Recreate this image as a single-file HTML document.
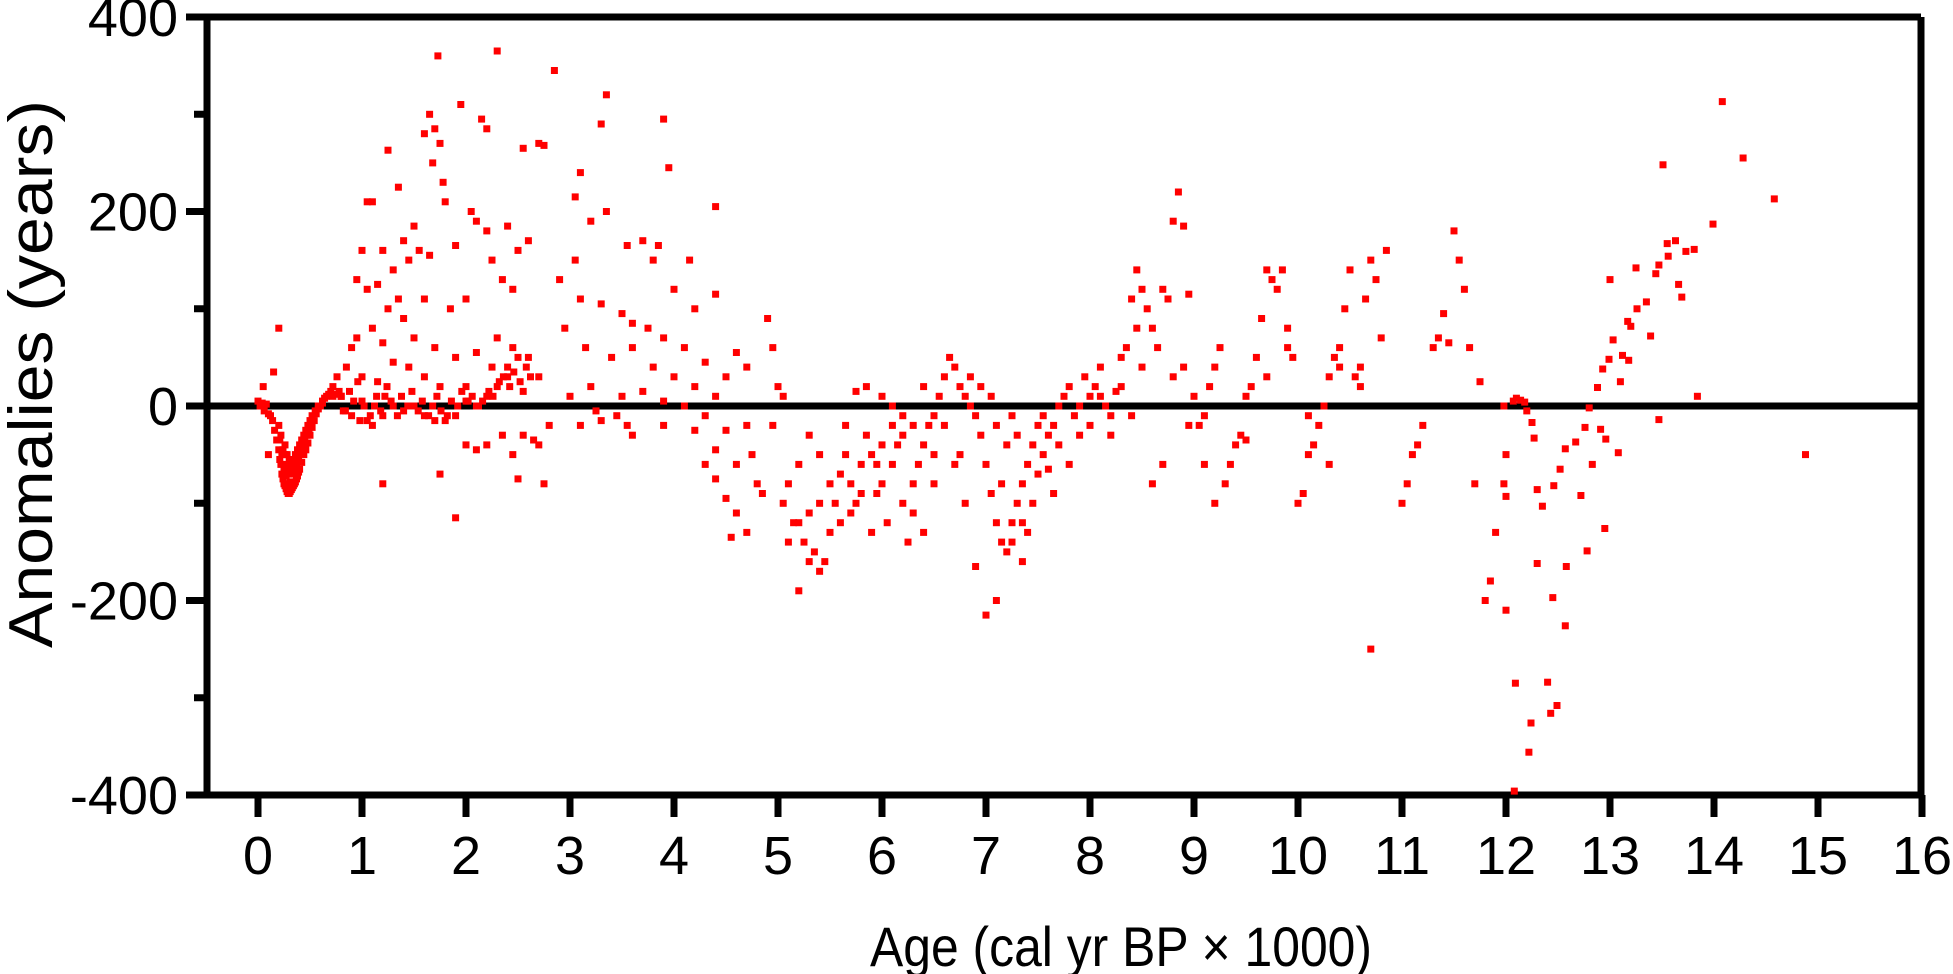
<!DOCTYPE html>
<html><head><meta charset="utf-8">
<style>
html,body{margin:0;padding:0;background:#fff;}
svg{display:block;}
text{font-family:"Liberation Sans",Arial,sans-serif;fill:#000;}
</style></head>
<body>
<svg id="chart" width="1953" height="974" viewBox="0 0 1953 974" xmlns="http://www.w3.org/2000/svg">
<g id="axes"></g>
<g id="marks"></g>
<text x="0" y="0" transform="translate(52,374) rotate(-90)" text-anchor="middle" font-size="62" textLength="548" lengthAdjust="spacingAndGlyphs">Anomalies (years)</text>
<text x="1121" y="966" text-anchor="middle" font-size="56" textLength="502" lengthAdjust="spacingAndGlyphs">Age (cal yr BP × 1000)</text>
</svg>
<script>
const xTicks=[0,1,2,3,4,5,6,7,8,9,10,11,12,13,14,15,16];
const yTicks=[400,200,0,-200,-400];
const yMinorTicks=[300,100,-100,-300];
const ages=[
0.0,0.02,0.04,0.06,0.08,0.1,0.12,0.14,0.16,0.18,
0.2,0.21,0.22,0.23,0.24,0.25,0.26,0.27,0.28,0.29,
0.3,0.31,0.32,0.33,0.34,0.35,0.36,0.37,0.38,0.39,
0.4,0.42,0.44,0.46,0.48,0.5,0.52,0.54,0.56,0.58,
0.6,0.62,0.64,0.66,0.68,0.7,0.72,0.75,0.78,0.8,
0.2,0.22,0.24,0.26,0.28,0.3,0.32,0.34,0.36,0.38,
0.4,0.42,0.44,0.46,0.48,0.5,0.52,0.55,0.58,0.62,
0.1,0.2,0.05,0.15,
0.21,0.23,0.25,0.27,0.29,0.31,0.33,0.35,0.37,0.39,0.41,0.43,0.45,0.47,0.49,
0.26,0.28,0.3,0.32,0.34,0.36,0.38,0.4,0.44,0.48,
1.0,1.05,1.1,1.2,1.3,1.4,1.5,1.6,1.7,1.8,1.9,2.0,2.1,2.2,2.3,2.4,2.5,
0.72,0.76,0.8,0.84,0.88,0.92,0.96,1.02,1.08,1.14,1.18,1.24,1.28,1.34,1.38,1.44,1.48,1.54,1.58,1.64,
1.68,1.72,1.76,1.82,1.86,1.92,1.96,2.02,2.06,2.12,2.16,2.22,2.26,2.32,2.36,2.42,2.46,2.52,2.58,2.62,
0.82,0.9,0.98,1.12,1.22,
1.73,2.3,1.65,1.7,1.75,1.6,1.95,2.15,2.2,1.25,1.35,2.55,2.7,2.75,1.78,1.8,1.68,1.05,1.1,1.5,
2.1,2.05,2.2,2.4,2.5,2.6,1.4,1.45,1.2,1.0,0.95,1.15,1.3,1.55,1.65,1.9,2.25,2.35,2.45,1.05,
1.25,1.35,1.6,1.85,2.0,2.3,2.45,2.6,2.7,0.9,0.95,1.1,1.2,1.4,1.5,1.7,1.9,2.1,2.25,0.85,
1.0,1.15,1.3,1.45,1.6,1.75,2.0,2.4,2.55,2.0,2.1,2.2,2.35,2.45,2.55,2.65,2.7,2.8,1.9,1.75,
1.2,2.5,2.75,
2.85,3.35,3.3,3.9,3.95,3.1,3.05,3.2,3.35,4.4,3.7,3.85,3.55,3.8,4.15,3.05,2.9,3.1,3.3,4.0,
4.2,4.4,3.5,3.6,3.75,3.9,4.1,4.3,4.5,4.6,2.95,3.15,3.4,3.6,3.8,4.0,4.2,4.4,4.7,3.0,
3.2,3.5,3.7,3.9,4.1,4.3,4.5,4.7,3.1,3.3,3.6,3.9,4.2,4.4,4.6,4.75,4.5,4.6,4.7,4.4,
4.3,4.8,4.55,4.85,4.9,4.95,5.0,5.05,4.95,3.45,3.55,3.25,
5.05,5.1,5.15,5.2,5.25,5.3,5.35,5.4,5.45,5.5,5.55,5.6,5.65,5.7,5.75,5.8,5.85,5.9,5.95,6.0,
6.05,6.1,6.15,6.2,6.25,6.3,6.35,6.4,6.45,6.5,6.55,6.6,6.65,6.7,6.75,6.8,6.85,6.9,6.95,7.0,
7.05,7.1,7.15,7.2,7.25,7.3,7.35,7.4,7.45,7.5,7.55,7.6,7.65,7.7,7.75,7.8,7.85,7.9,7.95,8.0,
5.1,5.2,5.3,5.4,5.5,5.2,5.3,5.4,5.6,5.7,5.8,5.9,6.0,6.1,6.2,6.3,6.4,6.0,6.1,5.85,
5.75,6.5,6.6,6.7,6.8,6.9,7.0,7.1,7.15,7.2,7.25,7.3,7.35,7.4,7.45,7.5,7.55,7.6,7.1,6.85,
6.95,7.05,6.4,6.3,6.2,7.35,7.25,6.5,5.65,5.95,6.75,7.65,7.7,7.8,7.9,
8.0,8.05,8.1,8.15,8.2,8.25,8.3,8.35,8.4,8.45,8.5,8.55,8.6,8.65,8.7,8.75,8.8,8.85,8.9,8.95,
8.6,8.7,8.8,8.9,9.0,9.05,9.1,9.15,9.2,9.25,9.3,9.35,9.4,9.45,9.5,9.55,9.6,9.65,9.7,9.75,
9.8,9.85,9.9,9.95,10.0,10.05,10.1,10.15,10.2,10.25,10.3,10.35,10.4,10.45,10.5,10.55,10.6,10.65,10.7,10.75,
10.8,10.85,10.7,10.1,9.9,9.7,9.5,9.2,9.1,8.95,8.3,8.2,8.1,8.5,8.45,8.4,10.3,10.4,10.6,
11.0,11.05,11.1,11.15,11.2,11.3,11.35,11.4,11.45,11.5,11.55,11.6,11.65,11.7,11.75,11.8,11.85,11.9,
12.08,12.22,12.24,12.4,12.43,12.49,12.09,12.0,
12.3,12.35,12.46,12.52,12.57,12.67,12.76,12.8,12.83,12.72,12.78,12.95,12.91,12.96,13.08,12.58,12.57,12.45,12.3,12.0,
12.0,11.98,12.25,12.27,
12.88,12.93,12.99,13.03,13.1,13.12,13.18,13.17,13.2,13.26,13.35,13.39,13.25,13.44,13.47,13.56,13.55,13.63,13.73,13.81,
13.66,13.69,13.99,11.98,12.07,12.1,12.14,12.18,12.2,
14.08,14.28,14.58,14.88,13.51,13.84,13.47,13.0
];
const anomalies=[
5,0,3,-5,2,-8,-10,-15,-25,-35,
-45,-55,-60,-70,-75,-80,-82,-85,-88,-90,
-90,-88,-86,-84,-82,-80,-78,-75,-72,-68,
-65,-58,-50,-45,-38,-30,-22,-15,-8,-3,
0,5,8,10,12,15,10,12,15,10,
-20,-30,-45,-50,-60,-65,-60,-55,-50,-45,
-40,-35,-30,-25,-20,-15,-10,-5,0,3,
-50,80,20,35,
-35,-50,-65,-72,-80,-78,-70,-66,-60,-56,-50,-44,-36,-30,-24,
-40,-50,-55,-60,-62,-58,-50,-45,-40,-28,
5,-15,-20,-10,0,-5,0,-10,-15,-15,-10,5,0,10,20,40,50,
20,30,10,-5,15,5,25,0,-10,10,-5,20,5,-10,10,0,15,-5,5,-10,
0,10,-5,-10,5,0,15,5,10,0,5,15,10,25,30,20,35,25,40,30,
-5,-10,-15,0,10,
360,365,300,285,270,280,310,295,285,263,225,265,270,268,230,210,250,210,210,185,
190,200,180,185,160,170,170,150,160,160,130,125,140,160,155,165,150,130,120,120,
100,110,110,100,110,70,60,50,30,60,70,80,65,90,70,60,50,55,40,40,
30,25,45,40,30,20,20,30,15,-40,-45,-40,-30,-50,-30,-35,-40,-20,-115,-70,
-80,-75,-80,
345,320,290,295,245,240,215,190,200,205,170,165,165,150,150,150,130,110,105,120,
100,115,95,85,80,70,60,45,30,55,80,60,50,60,40,30,20,10,40,10,
20,10,15,5,0,-10,-25,-20,-20,-15,-30,-20,-25,-45,-60,-50,-95,-110,-130,-75,
-60,-80,-135,-90,90,60,20,10,-20,-10,-20,-5,
-100,-80,-120,-190,-140,-110,-150,-170,-160,-130,-100,-70,-50,-80,-100,-60,-30,-50,-90,-80,
-120,-60,-40,-100,-140,-80,-60,-40,-20,-10,10,30,50,40,20,10,0,-10,-30,-60,
-90,-120,-140,-150,-120,-100,-80,-60,-40,-20,-10,-30,-20,0,10,20,-10,0,30,10,
-140,-120,-160,-100,-80,-60,-30,-50,-120,-110,-90,-130,-40,-20,-10,-110,-130,10,0,20,
15,-50,-20,-60,-100,-165,-215,-200,-80,-40,-10,-30,-120,-130,-100,-70,-50,-65,-20,30,
20,10,20,-20,-30,-160,-140,-80,-20,-60,-50,-90,-40,-60,-30,
-20,20,40,0,-10,15,50,60,110,140,120,100,80,60,120,110,190,220,185,115,
-80,-60,30,40,10,-20,-10,20,40,60,-80,-60,-40,-30,10,20,50,90,140,130,
120,140,60,50,-100,-90,-50,-40,-20,0,30,50,60,100,140,30,40,110,150,130,
70,160,-250,-10,80,30,-35,-100,-60,-20,20,-30,10,40,80,-10,-60,40,20,
-100,-80,-50,-40,-20,60,70,95,65,180,150,120,60,-80,25,-200,-180,-130,
-396,-356,-326,-284,-316,-308,-285,-210,
-86,-103,-82,-65,-44,-37,-22,-2,-60,-92,-149,-126,-24,-34,-48,-165,-226,-197,-162,-93,
-50,-80,-17,-33,
19,38,48,68,25,52,47,87,82,100,107,72,142,136,145,154,167,170,159,161,
125,112,187,0,5,8,6,4,-5,
313,255,213,-50,248,10,-14,130
];
</script>
<script>
const NS='http://www.w3.org/2000/svg';
const X0=258,XS=104,Y0=406,YS=0.9725;
function xScale(a){return X0+XS*a;}
function yScale(v){return Y0-YS*v;}
const axes=document.getElementById('axes');
const marks=document.getElementById('marks');
function mk(tag,attrs,parent){const e=document.createElementNS(NS,tag);for(const k in attrs)e.setAttribute(k,attrs[k]);parent.appendChild(e);return e;}
const L=207,R=1921,T=yScale(400),B=yScale(-400);
for(let i=0;i<ages.length&&i<anomalies.length;i++){
  const r=mk('rect',{x:(xScale(ages[i])-3.5).toFixed(1),y:(yScale(anomalies[i])-3.5).toFixed(1),width:7,height:7,fill:'#ff0000'},marks);
  
  
}
const frame=mk('path',{d:`M186 ${T} H${R} M${L} ${T} V${B} M186 ${B} H${R} M${R} ${T} V${B}`,stroke:'#000','stroke-width':7,fill:'none'},axes);


const zl=mk('line',{x1:L,x2:R,y1:yScale(0),y2:yScale(0),stroke:'#000','stroke-width':7},axes);


yTicks.forEach(v=>{
  const t=mk('line',{x1:186,x2:L,y1:yScale(v),y2:yScale(v),stroke:'#000','stroke-width':7},axes);
  
  
  const tx=mk('text',{x:178,y:yScale(v)+19,'text-anchor':'end','font-size':54},axes);
  tx.textContent=String(v);
  
  
});
yMinorTicks.forEach(v=>{
  const t=mk('line',{x1:194,x2:L,y1:yScale(v),y2:yScale(v),stroke:'#000','stroke-width':7},axes);
  
  
});
xTicks.forEach(a=>{
  const t=mk('line',{x1:xScale(a),x2:xScale(a),y1:B,y2:817,stroke:'#000','stroke-width':7},axes);
  
  
  const tx=mk('text',{x:xScale(a),y:874,'text-anchor':'middle','font-size':54},axes);
  tx.textContent=String(a);
  
  
});
</script>
</body></html>
